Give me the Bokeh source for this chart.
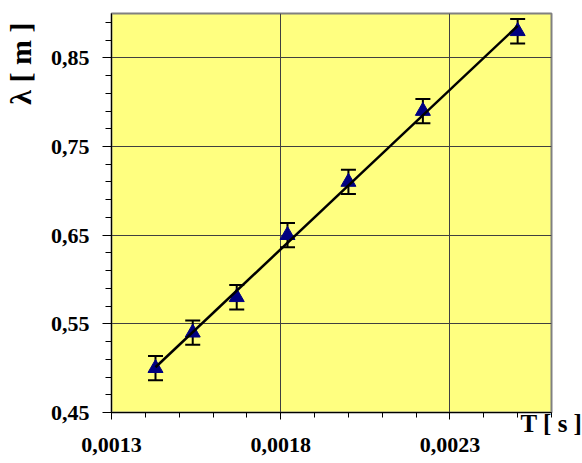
from bokeh.plotting import figure
from bokeh.models import (FixedTicker, CustomJSTickFormatter, Whisker, ColumnDataSource,
                          Title, TeeHead, Range1d)
from bokeh.embed import file_html
from bokeh.resources import INLINE

# ---- data ----
T = [0.00143, 0.00154, 0.00167, 0.00182, 0.00200, 0.00222, 0.00250]
lam = [0.50, 0.54, 0.58, 0.65, 0.71, 0.79, 0.88]
lam_err = [0.0137, 0.0137, 0.0137, 0.0137, 0.0137, 0.0137, 0.0137]
fit_T = [0.00143, 0.00250]
fit_lam = [0.501, 0.886]

x_major = [0.0013, 0.0018, 0.0023]
y_major = [0.45, 0.55, 0.65, 0.75, 0.85]
x_minor = [round(0.0013 + 0.0001 * i, 5) for i in range(14)]
y_minor = [round(0.45 + 0.02 * i, 2) for i in range(23)]

FONT = "Liberation Serif"

p = figure(width=582, height=463,
           x_range=Range1d(0.0013, 0.0026), y_range=Range1d(0.45, 0.90),
           output_backend="svg", toolbar_location=None,
           min_border_left=111, min_border_right=31, min_border_top=13, min_border_bottom=51)

p.background_fill_color = "#FFFF80"
p.border_fill_color = "white"
p.outline_line_color = "#808080"
p.outline_line_width = 2

p.xaxis.ticker = FixedTicker(ticks=x_major, minor_ticks=x_minor)
p.yaxis.ticker = FixedTicker(ticks=y_major, minor_ticks=y_minor)
p.xaxis.formatter = CustomJSTickFormatter(code="return tick.toFixed(4).replace('.', ',');")
# two leading no-break spaces widen the axis panel so the λ title sits further left
p.yaxis.formatter = CustomJSTickFormatter(
    code="return '\\u00a0\\u00a0' + tick.toFixed(2).replace('.', ',');")

for ax in (p.xaxis, p.yaxis):
    ax.axis_line_color = "black"
    ax.axis_line_width = 1
    ax.major_tick_line_color = "black"
    ax.minor_tick_line_color = "black"
    ax.major_tick_in = 0
    ax.minor_tick_in = 0
    ax.major_label_text_font = FONT
    ax.major_label_text_font_style = "bold"
    ax.major_label_text_font_size = "22px"
    ax.major_label_text_color = "black"

p.xaxis.major_tick_out = 7
p.xaxis.minor_tick_out = 5
p.xaxis.major_label_standoff = 18
p.yaxis.major_tick_out = 9
p.yaxis.minor_tick_out = 6
p.yaxis.major_label_standoff = 13

# x axis title, pulled up beside the tick labels at the right end
xa = p.xaxis[0]
xa.axis_label = "T [ s ]"
xa.axis_label_text_font = FONT
xa.axis_label_text_font_style = "bold"
xa.axis_label_text_font_size = "25px"
xa.axis_label_text_color = "black"
if "axis_label_align" in xa.properties():
    xa.axis_label_align = "end"
xa.axis_label_standoff = -45

p.xgrid.grid_line_color = "#404040"
p.ygrid.grid_line_color = "#404040"
p.xgrid.grid_line_width = 1
p.ygrid.grid_line_width = 1

# error bars
src = ColumnDataSource(dict(
    T=T,
    upper=[v + e for v, e in zip(lam, lam_err)],
    lower=[v - e for v, e in zip(lam, lam_err)],
))
w = Whisker(base="T", upper="upper", lower="lower", source=src,
            line_color="black", line_width=2,
            upper_head=TeeHead(size=15, line_color="black", line_width=2),
            lower_head=TeeHead(size=15, line_color="black", line_width=2))
w.level = "underlay"
p.add_layout(w)

p.scatter(T, lam, marker="triangle", size=15, fill_color="#000080", line_color="#000080")
p.line(fit_T, fit_lam, line_color="black", line_width=2.5)

ytitle = Title(text="λ [ m ]", align="right",
               text_font=FONT, text_font_style="bold",
               text_font_size="30px", text_color="black", standoff=0, offset=9)
p.add_layout(ytitle, "left")

open("out.html", "w").write(file_html(p, INLINE))
